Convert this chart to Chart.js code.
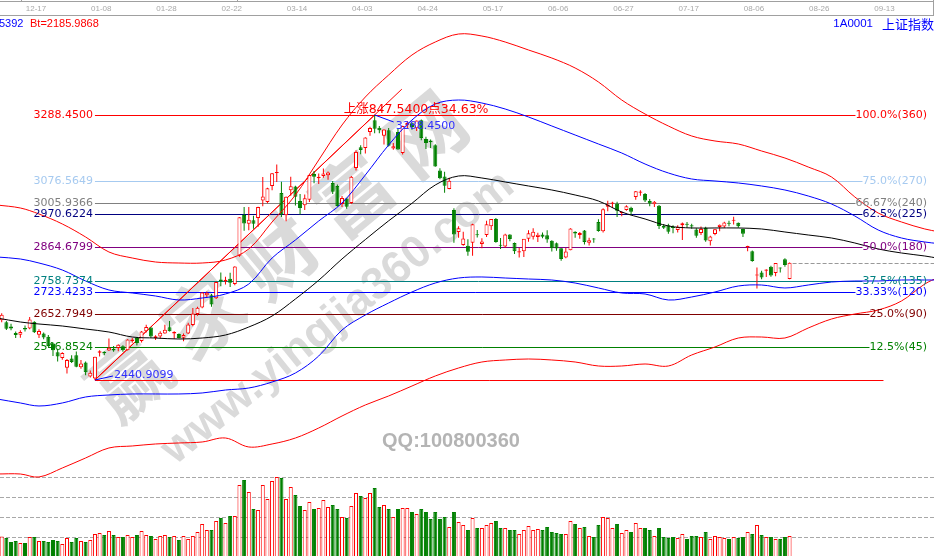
<!DOCTYPE html>
<html><head><meta charset="utf-8">
<script src="https://cdn.jsdelivr.net/npm/chart.js@4/dist/chart.umd.min.js"></script>
<style>html,body{margin:0;padding:0;background:#fff;overflow:hidden}#wrap{position:relative;width:934px;height:556px}</style>
</head><body><div id="wrap"><canvas id="c" width="934" height="556"></canvas></div>
<script>
// ---------------- data ----------------
const dates = ['12-05','12-06','12-07','12-10','12-11','12-12','12-13','12-14','12-17','12-18','12-19','12-20','12-21','12-24','12-25','12-26','12-27','12-28',
'01-02','01-03','01-04','01-07','01-08','01-09','01-10','01-11','01-14','01-15','01-16','01-17','01-18','01-21','01-22','01-23','01-24','01-25','01-28','01-29','01-30','01-31',
'02-01','02-11','02-12','02-13','02-14','02-15','02-18','02-19','02-20','02-21','02-22','02-25','02-26','02-27','02-28',
'03-01','03-04','03-05','03-06','03-07','03-08','03-11','03-12','03-13','03-14','03-15','03-18','03-19','03-20','03-21','03-22','03-25','03-26','03-27','03-28','03-29',
'04-01','04-02','04-03','04-04','04-08','04-09','04-10','04-11','04-12','04-15','04-16','04-17','04-18','04-19','04-22','04-23','04-24','04-25','04-26','04-29','04-30',
'05-06','05-07','05-08','05-09','05-10','05-13','05-14','05-15','05-16','05-17','05-20','05-21','05-22','05-23','05-24','05-27','05-28','05-29','05-30','05-31',
'06-03','06-04','06-05','06-06','06-10','06-11','06-12','06-13','06-14','06-17','06-18','06-19','06-20','06-21','06-24','06-25','06-26','06-27','06-28',
'07-01','07-02','07-03','07-04','07-05','07-08','07-09','07-10','07-11','07-12','07-15','07-16','07-17','07-18','07-19','07-22','07-23','07-24','07-25','07-26','07-29','07-30','07-31',
'08-01','08-02','08-05','08-06','08-07','08-08','08-09','08-12','08-13','08-14','08-15'];

const openP = [2632,2626,2612,2591,2586,2607,2606,2627,2586,2590,
2579,2558,2530,2511,2480,2510,2520,2482,2497,2452,
2446.0,2528,2531,2535,2541,2543,2549,2536,2566,2575,
2566,2597,2609,2575,2580,2590,2610,2590,2588,2576,
2590,2617,2652,2673,2712,2712,2702,2762,2756,2765,
2748,2838,2969,2941,2952,2959,3015,3010,3061,3103,
3039,2968,3048,3060,3013,3000,3017,3100,3086,3093,
3096,3071,3061,3004,3021,3007,3119,3185,3183,3234,
3272,3248,3222,3240,3181,3234,3167,3256,3262,3246,
3272,3212,3206,3192,3111,3092,3052,2985,2914,2873,
2870,2880,2906,2876,2905,2933,2956,2873,2868,2906,
2879,2849,2853,2893,2899,2898,2906,2904,2886,2878,
2862,2833,2856,2915,2905,2919,2880,2893,2946,2917,
2995,3005,3005,2975,2985,2992,3026,3040,3036,3013,
3003,2998,2934,2936,2930,2921,2936,2939,2936,2922,
2911,2928,2885,2908,2930,2932,2944,2950,2944,2924,
2866,2853,2775,2785,2790,2803,2783,2799,2827,2764];

const highP = [2654,2630,2621,2596,2600,2615,2642,2629,2603,2593,
2585,2561,2541,2530,2508,2520,2532,2505,2500,2471,
2515.3,2536,2533,2574,2550,2555,2552,2571,2575,2577,
2598,2618,2610,2584,2597,2618,2630,2597,2590,2590,
2624,2671,2675,2722,2724,2716,2756,2785,2771,2784,
2805,2961.8,2994,2994,2966,2995,3090,3056,3103,3130,
3075,3028,3091,3062,3036,3034,3097,3109,3101,3117,
3108,3077,3066,3029,3023,3093,3176,3192,3217,3251,
3288.45,3253,3243,3247,3199,3245,3254,3269,3264,3271,
3274,3219,3210,3195,3118,3107,3088,2990,2933,2915,
2891,2941,2921,2894,2950,2956,2959,2895,2909,2907,
2881,2863,2892,2920,2926,2912,2913,2920,2888,2881,
2862,2863,2926,2917,2914,2921,2896,2895,2955,2990,
3014,3011,3011,2981,3000,2995,3045,3048,3039,3020,
3013,3001,2940,2941,2936,2936,2945,2946,2941,2926,
2932,2931,2902,2924,2938,2947,2950,2963,2945,2925,
2870,2855,2801,2790,2795,2806,2815.5,2801,2830,2817];

const lowP = [2626,2601,2600,2575,2576,2596,2603,2591,2575,2571,
2547,2518,2500,2506,2462,2495,2482,2477,2456,2449,
2440.91,2516,2520,2534,2531,2533,2531,2535,2560,2551,
2561,2593,2576,2569,2574,2589,2596,2573,2574,2565,
2588,2613,2646,2670,2706,2675,2700,2741,2746,2738,
2744,2835,2918,2920,2925,2931,2997,3006,3048,3074,
2962,2949,3030,2999,2970,2985,3010,3070,3068,3088,
3081,3036,2995,2994,2989,3004,3111,3163,3165,3222,
3230,3230,3194,3188,3177,3177,3162,3244,3241,3237,
3208,3180,3183,3123,3083,3040,3051,2880,2896,2870,
2838,2838,2897,2862,2898,2921,2880,2860,2864,2885,
2844,2833,2834,2883,2890,2882,2894,2880,2852,2854,
2822,2830,2856,2896,2893,2874,2871,2880,2915,2913,
2981,2992,2962,2965,2982,2968,3017,3030,3010,2997,
2994,2924,2924,2909,2910,2913,2889,2929,2925,2896,
2905,2883,2871,2904,2917,2928,2933,2938,2928,2898,
2853,2819,2733.9,2763,2770,2771,2773,2785,2803,2763];

const closeP = [2649.8,2605.2,2605.9,2584.6,2594.1,2602.2,2634.1,2593.7,2598.0,2576.7,
2549.6,2536.3,2516.3,2527.0,2504.8,2498.3,2483.1,2493.9,2465.3,2464.4,
2514.9,2533.1,2526.5,2544.3,2535.1,2553.8,2535.8,2570.3,2570.4,2559.6,
2596.0,2610.5,2579.7,2581.0,2591.7,2601.7,2597.0,2594.3,2575.6,2584.6,
2618.2,2653.9,2671.9,2721.1,2719.7,2682.4,2754.4,2755.7,2761.2,2751.8,
2804.2,2961.3,2941.5,2953.8,2941.0,2994.0,3027.6,3054.3,3102.1,3106.4,
2969.9,3027.0,3060.3,3027.0,2990.7,3021.8,3096.4,3091.0,3090.6,3101.5,
3104.2,3043.0,2997.1,3022.7,2994.9,3090.8,3170.4,3176.8,3216.3,3246.6,
3244.8,3239.7,3241.9,3190.0,3188.6,3177.8,3253.6,3263.1,3250.2,3270.8,
3215.0,3198.6,3201.6,3123.8,3086.4,3062.5,3078.3,2906.5,2926.4,2893.8,
2850.9,2939.2,2903.7,2883.6,2938.7,2955.7,2882.3,2870.6,2906.0,2891.7,
2852.5,2853.0,2892.4,2909.9,2914.7,2905.8,2898.7,2890.1,2862.3,2861.4,
2827.8,2852.1,2925.7,2909.4,2910.7,2882.0,2887.6,2890.2,2917.8,2987.1,
3002.0,3008.2,2982.1,2976.3,2996.8,2978.9,3044.9,3043.9,3015.3,3005.3,
3011.1,2933.4,2928.2,2915.3,2927.0,2930.6,2942.2,2937.6,2931.7,2902.0,
2924.2,2887.0,2899.9,2923.3,2937.4,2944.5,2941.0,2952.3,2932.5,2908.8,
2867.8,2821.5,2777.6,2768.7,2794.6,2774.8,2815.0,2797.3,2808.9,2815.8];

const volume = [102,95,75,80,70,70,100,100,80,80,
75,85,80,65,95,75,95,80,75,85,
115,120,110,130,110,100,100,110,100,110,
130,110,105,90,105,110,100,105,85,105,
90,105,125,165,135,135,180,195,170,205,
205,360,385,325,240,235,360,290,380,400,
395,290,350,310,255,235,275,240,245,285,
250,260,240,200,195,255,320,305,295,320,
345,250,260,240,200,240,245,245,225,215,
240,225,190,225,190,200,150,225,175,160,
135,195,145,145,160,170,180,145,145,135,
135,115,135,155,135,140,135,150,125,120,
115,115,180,165,145,150,105,100,160,200,
195,145,165,120,135,125,170,145,145,135,
105,145,100,95,100,95,115,90,105,105,
100,125,90,105,100,95,90,100,95,100,
125,115,160,110,100,100,90,90,100,105];

// indicator curves sampled at these bar positions (beyond the last bar they run into the future)
const bandIdx = [-1,4,8,13,18,23,28,33,38,43,48,53,58,63,68,73,78,83,88,93,98,103,108,113,118,123,128,133,138,143,148,153,158,163,168,173,178,183,188,193,198,201];
const upperRed = [3000.6,2991.0,2971.8,2939.9,2898.3,2850.3,2831.1,2818.3,2815.1,2815.1,2824.7,2859.9,2946.3,3032.6,3144.5,3256.5,3346.0,3416.4,3480.3,3521.9,3547.5,3541.1,3521.9,3496.3,3470.7,3438.8,3394.0,3336.4,3291.6,3253.3,3221.3,3205.3,3195.7,3173.3,3150.9,3122.1,3090.2,3026.2,2975.0,2946.3,2923.9,2915.0];
const upperBlue = [2834.3,2827.9,2815.1,2792.7,2757.5,2728.8,2719.2,2709.6,2696.8,2703.2,2716.0,2747.9,2831.1,2888.7,2949.5,3007.0,3096.6,3192.5,3272.5,3323.6,3336.4,3326.8,3307.6,3282.1,3253.3,3224.5,3195.7,3166.9,3131.7,3103.0,3083.8,3077.4,3071.0,3061.4,3048.6,3029.4,3003.8,2965.4,2920.7,2895.1,2882.3,2877.0];
const midBlack = [2639.2,2626.4,2620.0,2613.6,2604.0,2594.4,2578.4,2575.2,2572.0,2575.2,2584.8,2610.4,2645.6,2700.0,2760.0,2828.0,2890.0,2950.0,3006.0,3064.6,3093.4,3087.0,3074.2,3061.4,3048.6,3032.6,3013.4,2978.2,2955.9,2933.5,2927.1,2927.1,2927.1,2923.9,2914.3,2904.7,2895.1,2879.1,2859.9,2847.1,2837.5,2830.0];
const lowerBlue = [2380.2,2367.4,2357.8,2367.4,2386.6,2393.0,2396.2,2396.2,2396.2,2399.4,2408.9,2415.3,2434.5,2463.3,2517.7,2600.8,2648.8,2687.2,2722.4,2751.1,2767.1,2770.4,2767.1,2763.9,2760.7,2751.1,2735.2,2719.2,2716.0,2696.8,2706.4,2722.4,2741.5,2744.7,2735.2,2744.7,2754.3,2757.5,2757.5,2760.7,2760.7,2760.7];
const lowerRed = [2140.3,2140.3,2130.7,2159.5,2191.5,2223.5,2229.9,2236.3,2239.5,2242.7,2255.4,2226.7,2236.3,2255.4,2287.4,2325.8,2361.0,2389.8,2421.7,2453.7,2479.3,2498.5,2504.9,2508.1,2504.9,2498.5,2485.7,2485.7,2492.1,2485.7,2520.9,2546.5,2575.2,2578.4,2575.2,2607.2,2636.0,2652.0,2664.8,2693.6,2747.9,2770.0];

// date axis ticks (every 14 bars, continuing into the future)
const tickIdx = [8,22,36,50,64,78,92,106,120,134,148,162,176,190];
const tickLabels = ['12-17','01-08','01-28','02-22','03-14','04-03','04-24','05-17','06-06','06-27','07-17','08-06','08-26','09-13'];

// swing (golden-section tool) from the low to the high
const swingLowIdx = 20, swingLow = 2440.9099;
const swingHighIdx = 80, swingHigh = 3288.4500;
const risePoints = 847.5400, risePct = 34.63;
const fibLevels = [2546.8524, 2652.7949, 2723.4233, 2758.7374, 2864.6799, 2970.6224, 3005.9366, 3076.5649, 3288.4500];
const fibPct = ['12.5%','25.0%','33.33%','37.5%','50.0%','62.5%','66.67%','75.0%','100.0%'];
const fibDeg = [45, 90, 120, 135, 180, 225, 240, 270, 360];
const volGrid = [100, 200, 300, 400];

// ---------------- styles ----------------
const fibColors = ['#008000','#800000','#0000ff','#008080','#800080','#000080','#808080','#a6caf0','#ff0000'];
const RED = '#ff0000', GREEN = '#008000';
const LBL = '11px "DejaVu Sans"';

const N = dates.length;
const ids = dates.map((d, i) => i);
const up = ids.map(i => closeP[i] >= openP[i]);
const edge = ids.map(i => up[i] ? RED : GREEN);
const fill = ids.map(i => up[i] ? '#ffffff' : GREEN);
const pts = arr => bandIdx.map((b, k) => ({x: b, y: arr[k]}));

function hline(ctx, x1, x2, y){ ctx.beginPath(); ctx.moveTo(x1, y); ctx.lineTo(x2, y); ctx.stroke(); }

const overlay = {
  id: 'overlay',
  beforeDatasetsDraw(chart){
    const {ctx, scales: {x, y, yv}} = chart;
    ctx.save();
    // watermark
    ctx.fillStyle = 'rgba(120,120,120,0.27)';
    ctx.textAlign = 'center'; ctx.textBaseline = 'middle';
    ctx.save(); ctx.translate(284, 250); ctx.rotate(-0.69);
    ctx.font = 'bold 78px "Noto Sans CJK SC"'; ctx.letterSpacing = '18px';
    ctx.fillText('赢家财富网', 0, 0); ctx.restore();
    ctx.save(); ctx.translate(338, 318); ctx.rotate(-0.68);
    ctx.font = 'bold 45px "Liberation Sans"'; ctx.letterSpacing = '0px';
    ctx.fillText('www.yingjia360.com', 0, 0); ctx.restore();

    // volume grid
    ctx.strokeStyle = '#a8a8a8'; ctx.lineWidth = 1; ctx.setLineDash([4, 2]);
    volGrid.forEach(v => hline(ctx, 0, 934, Math.round(yv.getPixelForValue(v)) + 0.5));
    ctx.setLineDash([]);

    // golden section lines
    ctx.font = LBL;
    const x0 = x.getPixelForValue(swingLowIdx);
    fibLevels.forEach((p, k) => {
      const w = ctx.measureText(fibPct[k] + '(' + fibDeg[k] + ')').width;
      ctx.strokeStyle = fibColors[k];
      hline(ctx, x0, 927 - w, Math.round(y.getPixelForValue(p)) + 0.5);
    });
    ctx.strokeStyle = RED;
    hline(ctx, x0, 927 - ctx.measureText('0.0%(0)').width, Math.round(y.getPixelForValue(swingLow)) + 0.5);

    // trend lines from the low through the high
    const lx = x.getPixelForValue(swingLowIdx), ly = y.getPixelForValue(swingLow);
    const hx = x.getPixelForValue(swingHighIdx), hy = y.getPixelForValue(swingHigh);
    ctx.strokeStyle = RED; ctx.lineWidth = 1;
    ctx.beginPath(); ctx.moveTo(lx, ly); ctx.lineTo(hx, hy); ctx.stroke();
    const ext = 1.09;
    ctx.beginPath(); ctx.moveTo(lx + 1, ly - 1); ctx.lineTo(lx + (hx - lx) * ext + 2, ly + (hy - ly) * ext - 2); ctx.stroke();
    ctx.restore();
  },
  afterDatasetsDraw(chart){
    const {ctx, scales: {x, y}} = chart;
    ctx.save();
    ctx.font = LBL; ctx.textBaseline = 'middle';
    // left price labels and right ratio labels
    fibLevels.forEach((p, k) => {
      const py = Math.round(y.getPixelForValue(p)) + 0.5;
      ctx.fillStyle = fibColors[k];
      ctx.textAlign = 'right';
      ctx.fillText(p.toFixed(4), 93, py);
      ctx.fillText(fibPct[k] + '(' + fibDeg[k] + ')', 927, py);
    });
    // low / high markers
    const lx = x.getPixelForValue(swingLowIdx), ly = y.getPixelForValue(swingLow);
    const hx = x.getPixelForValue(swingHighIdx), hy = y.getPixelForValue(swingHigh);
    ctx.strokeStyle = '#0000ff'; ctx.lineWidth = 1;
    ctx.beginPath(); ctx.moveTo(lx, ly); ctx.lineTo(lx + 18, ly - 4); ctx.stroke();
    ctx.beginPath(); ctx.moveTo(hx, hy); ctx.lineTo(hx + 19, hy + 7); ctx.stroke();
    ctx.fillStyle = '#3030ff'; ctx.textAlign = 'left';
    ctx.fillText(swingLow.toFixed(4), lx + 19, ly - 5);
    ctx.fillText(swingHigh.toFixed(4), hx + 21, hy + 11);
    // rise text
    ctx.fillStyle = RED; ctx.textBaseline = 'alphabetic';
    ctx.font = '12.5px "DejaVu Sans", "Noto Sans CJK SC"';
    ctx.fillText('上涨' + risePoints.toFixed(4) + '点' + risePct.toFixed(2) + '%', hx - 31, hy - 2);

    // last price dashed line
    const lastX = x.getPixelForValue(N - 1) + 3, lastY = Math.round(y.getPixelForValue(closeP[N - 1])) + 0.5;
    ctx.strokeStyle = '#999'; ctx.setLineDash([4, 2]);
    hline(ctx, lastX, 934, lastY); ctx.setLineDash([]);

    // QQ text
    ctx.fillStyle = '#b4b4b4'; ctx.font = 'bold 20px "Liberation Sans"'; ctx.textAlign = 'center'; ctx.textBaseline = 'middle';
    ctx.fillText('QQ:100800360', 451, 441);

    // top date band
    ctx.fillStyle = '#fff'; ctx.fillRect(0, 0, 934, 16);
    ctx.strokeStyle = '#a0a0a0';
    hline(ctx, 0, 934, 1.5); hline(ctx, 0, 934, 15.5);
    ctx.beginPath(); ctx.moveTo(933.5, 0); ctx.lineTo(933.5, 16); ctx.moveTo(21.5, 0); ctx.lineTo(21.5, 2); ctx.moveTo(237.5, 0); ctx.lineTo(237.5, 2); ctx.stroke();
    ctx.fillStyle = '#a8a8a8'; ctx.font = '8px "Liberation Sans"'; ctx.textAlign = 'center';
    tickIdx.forEach((t, k) => ctx.fillText(tickLabels[k], x.getPixelForValue(t) - 3, 9));

    // header
    ctx.font = '11px "Liberation Sans"'; ctx.textAlign = 'left'; ctx.textBaseline = 'middle';
    ctx.fillStyle = '#0000ff'; ctx.fillText('5392', -1, 24);
    ctx.fillStyle = RED; ctx.fillText('Bt=2185.9868', 30, 24);
    ctx.fillStyle = '#0000ff'; ctx.textAlign = 'right';
    ctx.font = '13px "Noto Sans CJK SC"'; ctx.fillText('上证指数', 934, 24);
    ctx.font = '11.5px "Liberation Sans"'; ctx.fillText('1A0001', 873, 24);
    ctx.restore();
  }
};

const lineDs = (arr, color) => ({type: 'line', data: pts(arr), borderColor: color, borderWidth: 1, pointRadius: 0, tension: 0.35, yAxisID: 'y', order: 1, fill: false});

new Chart(document.getElementById('c'), {
  type: 'bar',
  data: {
    datasets: [
      {data: ids.map(i => ({x: i, y: [lowP[i], highP[i]]})), backgroundColor: edge, borderWidth: 0, barThickness: 1, grouped: false, yAxisID: 'y', order: 5, inflateAmount: 0},
      {data: ids.map(i => ({x: i, y: [openP[i], closeP[i]]})), backgroundColor: fill, borderColor: edge, borderWidth: 1, borderSkipped: false, barThickness: 4, minBarLength: 1, grouped: false, yAxisID: 'y', order: 4, inflateAmount: 0},
      {data: ids.map(i => ({x: i, y: volume[i]})), backgroundColor: fill, borderColor: edge, borderWidth: 1, borderSkipped: false, barThickness: 4, grouped: false, yAxisID: 'yv', order: 4, inflateAmount: 0},
      lineDs(upperRed, '#ff0000'),
      lineDs(upperBlue, '#0000ff'),
      lineDs(midBlack, '#000000'),
      lineDs(lowerBlue, '#0000ff'),
      lineDs(lowerRed, '#ff0000')
    ]
  },
  options: {
    responsive: false, animation: false, devicePixelRatio: 1, events: [],
    layout: {padding: 0},
    plugins: {legend: {display: false}, tooltip: {enabled: false}},
    scales: {
      x: {type: 'linear', min: -0.3655, max: 199.978, offset: false, display: false},
      y: {type: 'linear', min: 1878.01, max: 3656.25, display: false},
      yv: {type: 'linear', min: 5, max: 2785, display: false}
    }
  },
  plugins: [overlay]
});
</script>
</body></html>
